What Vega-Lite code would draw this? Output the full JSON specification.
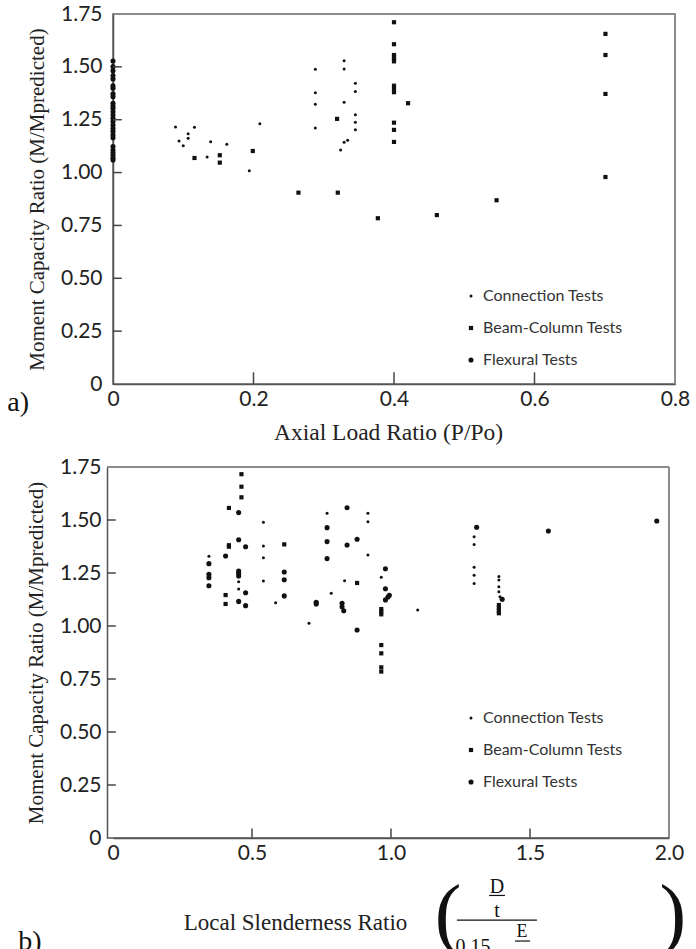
{
  "$schema": "https://vega.github.io/schema/vega-lite/v6.json",
  "background": "white",
  "padding": {"left": 6, "top": 2, "right": 0, "bottom": 0},
  "spacing": 11,
  "resolve": {"scale": {"shape": "independent", "size": "independent"}, "legend": {"shape": "independent", "size": "independent"}},
  "config": {
    "view": {"stroke": "#8c8c8c", "strokeWidth": 2},
    "axis": {"labelFont": "Lato", "labelFontSize": 21, "labelColor": "#222", "titleFont": "Liberation Serif", "titleFontSize": 21, "titleFontWeight": "normal", "titleColor": "#222", "domainColor": "#555", "domainWidth": 1.5, "ticks": false, "grid": false, "labelFlush": false, "labelOverlap": false},
    "legend": {"title": null, "labelFont": "Lato", "labelFontSize": 16, "labelColor": "#333", "rowPadding": 16, "labelOffset": 4, "padding": 0},
    "text": {"font": "Liberation Serif", "color": "#111"}
  },
  "datasets": {
    "axial": [
      {"ratio": 0, "capacity": 1.528, "test": "Flexural Tests"},
      {"ratio": 0, "capacity": 1.501, "test": "Flexural Tests"},
      {"ratio": 0, "capacity": 1.481, "test": "Flexural Tests"},
      {"ratio": 0, "capacity": 1.459, "test": "Flexural Tests"},
      {"ratio": 0, "capacity": 1.443, "test": "Flexural Tests"},
      {"ratio": 0, "capacity": 1.410, "test": "Flexural Tests"},
      {"ratio": 0, "capacity": 1.399, "test": "Flexural Tests"},
      {"ratio": 0, "capacity": 1.372, "test": "Flexural Tests"},
      {"ratio": 0, "capacity": 1.359, "test": "Flexural Tests"},
      {"ratio": 0, "capacity": 1.328, "test": "Flexural Tests"},
      {"ratio": 0, "capacity": 1.315, "test": "Flexural Tests"},
      {"ratio": 0, "capacity": 1.304, "test": "Flexural Tests"},
      {"ratio": 0, "capacity": 1.288, "test": "Flexural Tests"},
      {"ratio": 0, "capacity": 1.272, "test": "Flexural Tests"},
      {"ratio": 0, "capacity": 1.257, "test": "Flexural Tests"},
      {"ratio": 0, "capacity": 1.241, "test": "Flexural Tests"},
      {"ratio": 0, "capacity": 1.225, "test": "Flexural Tests"},
      {"ratio": 0, "capacity": 1.209, "test": "Flexural Tests"},
      {"ratio": 0, "capacity": 1.194, "test": "Flexural Tests"},
      {"ratio": 0, "capacity": 1.178, "test": "Flexural Tests"},
      {"ratio": 0, "capacity": 1.165, "test": "Flexural Tests"},
      {"ratio": 0, "capacity": 1.123, "test": "Flexural Tests"},
      {"ratio": 0, "capacity": 1.107, "test": "Flexural Tests"},
      {"ratio": 0, "capacity": 1.094, "test": "Flexural Tests"},
      {"ratio": 0, "capacity": 1.082, "test": "Flexural Tests"},
      {"ratio": 0, "capacity": 1.069, "test": "Flexural Tests"},
      {"ratio": 0, "capacity": 1.060, "test": "Flexural Tests"},
      {"ratio": 0.089, "capacity": 1.216, "test": "Connection Tests"},
      {"ratio": 0.094, "capacity": 1.149, "test": "Connection Tests"},
      {"ratio": 0.100, "capacity": 1.127, "test": "Connection Tests"},
      {"ratio": 0.107, "capacity": 1.184, "test": "Connection Tests"},
      {"ratio": 0.107, "capacity": 1.162, "test": "Connection Tests"},
      {"ratio": 0.116, "capacity": 1.214, "test": "Connection Tests"},
      {"ratio": 0.134, "capacity": 1.074, "test": "Connection Tests"},
      {"ratio": 0.139, "capacity": 1.146, "test": "Connection Tests"},
      {"ratio": 0.162, "capacity": 1.134, "test": "Connection Tests"},
      {"ratio": 0.194, "capacity": 1.009, "test": "Connection Tests"},
      {"ratio": 0.209, "capacity": 1.231, "test": "Connection Tests"},
      {"ratio": 0.288, "capacity": 1.489, "test": "Connection Tests"},
      {"ratio": 0.288, "capacity": 1.378, "test": "Connection Tests"},
      {"ratio": 0.288, "capacity": 1.323, "test": "Connection Tests"},
      {"ratio": 0.288, "capacity": 1.211, "test": "Connection Tests"},
      {"ratio": 0.324, "capacity": 1.107, "test": "Connection Tests"},
      {"ratio": 0.329, "capacity": 1.529, "test": "Connection Tests"},
      {"ratio": 0.329, "capacity": 1.490, "test": "Connection Tests"},
      {"ratio": 0.329, "capacity": 1.333, "test": "Connection Tests"},
      {"ratio": 0.329, "capacity": 1.143, "test": "Connection Tests"},
      {"ratio": 0.334, "capacity": 1.153, "test": "Connection Tests"},
      {"ratio": 0.345, "capacity": 1.422, "test": "Connection Tests"},
      {"ratio": 0.345, "capacity": 1.384, "test": "Connection Tests"},
      {"ratio": 0.345, "capacity": 1.274, "test": "Connection Tests"},
      {"ratio": 0.345, "capacity": 1.238, "test": "Connection Tests"},
      {"ratio": 0.345, "capacity": 1.202, "test": "Connection Tests"},
      {"ratio": 0.116, "capacity": 1.069, "test": "Beam-Column Tests"},
      {"ratio": 0.152, "capacity": 1.082, "test": "Beam-Column Tests"},
      {"ratio": 0.152, "capacity": 1.047, "test": "Beam-Column Tests"},
      {"ratio": 0.199, "capacity": 1.102, "test": "Beam-Column Tests"},
      {"ratio": 0.264, "capacity": 0.905, "test": "Beam-Column Tests"},
      {"ratio": 0.320, "capacity": 0.905, "test": "Beam-Column Tests"},
      {"ratio": 0.319, "capacity": 1.254, "test": "Beam-Column Tests"},
      {"ratio": 0.377, "capacity": 0.784, "test": "Beam-Column Tests"},
      {"ratio": 0.400, "capacity": 1.711, "test": "Beam-Column Tests"},
      {"ratio": 0.400, "capacity": 1.607, "test": "Beam-Column Tests"},
      {"ratio": 0.400, "capacity": 1.556, "test": "Beam-Column Tests"},
      {"ratio": 0.400, "capacity": 1.545, "test": "Beam-Column Tests"},
      {"ratio": 0.400, "capacity": 1.536, "test": "Beam-Column Tests"},
      {"ratio": 0.400, "capacity": 1.526, "test": "Beam-Column Tests"},
      {"ratio": 0.400, "capacity": 1.411, "test": "Beam-Column Tests"},
      {"ratio": 0.400, "capacity": 1.397, "test": "Beam-Column Tests"},
      {"ratio": 0.400, "capacity": 1.380, "test": "Beam-Column Tests"},
      {"ratio": 0.400, "capacity": 1.236, "test": "Beam-Column Tests"},
      {"ratio": 0.400, "capacity": 1.202, "test": "Beam-Column Tests"},
      {"ratio": 0.400, "capacity": 1.145, "test": "Beam-Column Tests"},
      {"ratio": 0.420, "capacity": 1.328, "test": "Beam-Column Tests"},
      {"ratio": 0.461, "capacity": 0.799, "test": "Beam-Column Tests"},
      {"ratio": 0.546, "capacity": 0.869, "test": "Beam-Column Tests"},
      {"ratio": 0.701, "capacity": 1.656, "test": "Beam-Column Tests"},
      {"ratio": 0.701, "capacity": 1.556, "test": "Beam-Column Tests"},
      {"ratio": 0.701, "capacity": 1.372, "test": "Beam-Column Tests"},
      {"ratio": 0.701, "capacity": 0.979, "test": "Beam-Column Tests"}
    ],
    "slender": [
      {"ratio": 0.345, "capacity": 1.329, "test": "Connection Tests"},
      {"ratio": 0.345, "capacity": 1.294, "test": "Flexural Tests"},
      {"ratio": 0.345, "capacity": 1.244, "test": "Flexural Tests"},
      {"ratio": 0.345, "capacity": 1.228, "test": "Flexural Tests"},
      {"ratio": 0.345, "capacity": 1.190, "test": "Flexural Tests"},
      {"ratio": 0.405, "capacity": 1.330, "test": "Flexural Tests"},
      {"ratio": 0.405, "capacity": 1.146, "test": "Beam-Column Tests"},
      {"ratio": 0.405, "capacity": 1.104, "test": "Beam-Column Tests"},
      {"ratio": 0.417, "capacity": 1.557, "test": "Beam-Column Tests"},
      {"ratio": 0.417, "capacity": 1.381, "test": "Beam-Column Tests"},
      {"ratio": 0.417, "capacity": 1.374, "test": "Beam-Column Tests"},
      {"ratio": 0.452, "capacity": 1.535, "test": "Flexural Tests"},
      {"ratio": 0.452, "capacity": 1.407, "test": "Flexural Tests"},
      {"ratio": 0.452, "capacity": 1.259, "test": "Flexural Tests"},
      {"ratio": 0.452, "capacity": 1.248, "test": "Flexural Tests"},
      {"ratio": 0.452, "capacity": 1.236, "test": "Flexural Tests"},
      {"ratio": 0.452, "capacity": 1.209, "test": "Connection Tests"},
      {"ratio": 0.452, "capacity": 1.175, "test": "Connection Tests"},
      {"ratio": 0.452, "capacity": 1.116, "test": "Flexural Tests"},
      {"ratio": 0.462, "capacity": 1.716, "test": "Beam-Column Tests"},
      {"ratio": 0.462, "capacity": 1.657, "test": "Beam-Column Tests"},
      {"ratio": 0.462, "capacity": 1.607, "test": "Beam-Column Tests"},
      {"ratio": 0.477, "capacity": 1.374, "test": "Flexural Tests"},
      {"ratio": 0.477, "capacity": 1.157, "test": "Flexural Tests"},
      {"ratio": 0.477, "capacity": 1.096, "test": "Flexural Tests"},
      {"ratio": 0.541, "capacity": 1.489, "test": "Connection Tests"},
      {"ratio": 0.541, "capacity": 1.377, "test": "Connection Tests"},
      {"ratio": 0.541, "capacity": 1.322, "test": "Connection Tests"},
      {"ratio": 0.541, "capacity": 1.212, "test": "Connection Tests"},
      {"ratio": 0.585, "capacity": 1.110, "test": "Connection Tests"},
      {"ratio": 0.616, "capacity": 1.385, "test": "Beam-Column Tests"},
      {"ratio": 0.616, "capacity": 1.255, "test": "Flexural Tests"},
      {"ratio": 0.616, "capacity": 1.218, "test": "Flexural Tests"},
      {"ratio": 0.616, "capacity": 1.142, "test": "Flexural Tests"},
      {"ratio": 0.705, "capacity": 1.013, "test": "Connection Tests"},
      {"ratio": 0.731, "capacity": 1.112, "test": "Flexural Tests"},
      {"ratio": 0.731, "capacity": 1.104, "test": "Flexural Tests"},
      {"ratio": 0.770, "capacity": 1.532, "test": "Connection Tests"},
      {"ratio": 0.770, "capacity": 1.464, "test": "Flexural Tests"},
      {"ratio": 0.770, "capacity": 1.398, "test": "Flexural Tests"},
      {"ratio": 0.770, "capacity": 1.318, "test": "Flexural Tests"},
      {"ratio": 0.785, "capacity": 1.154, "test": "Connection Tests"},
      {"ratio": 0.824, "capacity": 1.107, "test": "Flexural Tests"},
      {"ratio": 0.824, "capacity": 1.091, "test": "Flexural Tests"},
      {"ratio": 0.830, "capacity": 1.072, "test": "Flexural Tests"},
      {"ratio": 0.842, "capacity": 1.558, "test": "Flexural Tests"},
      {"ratio": 0.842, "capacity": 1.382, "test": "Flexural Tests"},
      {"ratio": 0.833, "capacity": 1.214, "test": "Connection Tests"},
      {"ratio": 0.878, "capacity": 1.409, "test": "Flexural Tests"},
      {"ratio": 0.878, "capacity": 1.203, "test": "Beam-Column Tests"},
      {"ratio": 0.878, "capacity": 0.981, "test": "Flexural Tests"},
      {"ratio": 0.917, "capacity": 1.532, "test": "Connection Tests"},
      {"ratio": 0.917, "capacity": 1.492, "test": "Connection Tests"},
      {"ratio": 0.917, "capacity": 1.335, "test": "Connection Tests"},
      {"ratio": 0.980, "capacity": 1.270, "test": "Flexural Tests"},
      {"ratio": 0.965, "capacity": 1.230, "test": "Connection Tests"},
      {"ratio": 0.980, "capacity": 1.176, "test": "Flexural Tests"},
      {"ratio": 0.994, "capacity": 1.145, "test": "Flexural Tests"},
      {"ratio": 0.989, "capacity": 1.137, "test": "Flexural Tests"},
      {"ratio": 0.980, "capacity": 1.123, "test": "Flexural Tests"},
      {"ratio": 0.965, "capacity": 1.080, "test": "Beam-Column Tests"},
      {"ratio": 0.965, "capacity": 1.068, "test": "Beam-Column Tests"},
      {"ratio": 0.965, "capacity": 1.055, "test": "Beam-Column Tests"},
      {"ratio": 0.965, "capacity": 0.910, "test": "Beam-Column Tests"},
      {"ratio": 0.965, "capacity": 0.871, "test": "Beam-Column Tests"},
      {"ratio": 0.965, "capacity": 0.805, "test": "Beam-Column Tests"},
      {"ratio": 0.965, "capacity": 0.785, "test": "Beam-Column Tests"},
      {"ratio": 1.096, "capacity": 1.075, "test": "Connection Tests"},
      {"ratio": 1.308, "capacity": 1.466, "test": "Flexural Tests"},
      {"ratio": 1.299, "capacity": 1.421, "test": "Connection Tests"},
      {"ratio": 1.299, "capacity": 1.385, "test": "Connection Tests"},
      {"ratio": 1.299, "capacity": 1.277, "test": "Connection Tests"},
      {"ratio": 1.299, "capacity": 1.239, "test": "Connection Tests"},
      {"ratio": 1.299, "capacity": 1.201, "test": "Connection Tests"},
      {"ratio": 1.388, "capacity": 1.233, "test": "Connection Tests"},
      {"ratio": 1.388, "capacity": 1.217, "test": "Connection Tests"},
      {"ratio": 1.388, "capacity": 1.185, "test": "Connection Tests"},
      {"ratio": 1.388, "capacity": 1.162, "test": "Connection Tests"},
      {"ratio": 1.392, "capacity": 1.138, "test": "Connection Tests"},
      {"ratio": 1.400, "capacity": 1.126, "test": "Flexural Tests"},
      {"ratio": 1.388, "capacity": 1.099, "test": "Beam-Column Tests"},
      {"ratio": 1.388, "capacity": 1.085, "test": "Beam-Column Tests"},
      {"ratio": 1.388, "capacity": 1.071, "test": "Beam-Column Tests"},
      {"ratio": 1.388, "capacity": 1.060, "test": "Beam-Column Tests"},
      {"ratio": 1.566, "capacity": 1.448, "test": "Flexural Tests"},
      {"ratio": 1.956, "capacity": 1.495, "test": "Flexural Tests"}
    ],
    "one": [{}],
    "yticks": [{"capacity": 0.25}, {"capacity": 0.5}, {"capacity": 0.75}, {"capacity": 1}, {"capacity": 1.25}, {"capacity": 1.5}],
    "xticks_axial": [{"ratio": 0.2}, {"ratio": 0.4}, {"ratio": 0.6}],
    "xticks_slender": [{"ratio": 0.5}, {"ratio": 1}, {"ratio": 1.5}]
  },
  "vconcat": [
    {
      "width": 562,
      "height": 370,
      "layer": [
        {
          "data": {"name": "axial"},
          "mark": {"type": "point", "filled": true, "opacity": 1, "color": "#111"},
          "encoding": {
            "x": {"field": "ratio", "type": "quantitative", "scale": {"domain": [0, 0.8], "nice": false, "zero": false},
              "axis": {"values": [0, 0.2, 0.4, 0.6, 0.8], "labelExpr": "datum.value == 0 ? '0' : format(datum.value, '.1f')", "labelPadding": 4, "title": "Axial Load Ratio (P/Po)", "titleFontSize": 23.5, "titleX": 275, "titleY": 48, "titleBaseline": "middle"}},
            "y": {"field": "capacity", "type": "quantitative", "scale": {"domain": [0, 1.75], "nice": false, "zero": false},
              "axis": {"values": [0, 0.25, 0.5, 0.75, 1, 1.25, 1.5, 1.75], "labelExpr": "datum.value == 0 ? '0' : format(datum.value, '.2f')", "labelPadding": 11, "title": "Moment Capacity Ratio (M/Mpredicted)", "titlePadding": 13}},
            "shape": {"field": "test", "type": "nominal", "scale": {"domain": ["Connection Tests", "Beam-Column Tests", "Flexural Tests"], "range": ["circle", "square", "circle"]},
              "legend": {"orient": "none", "legendX": 350, "legendY": 274}},
            "size": {"field": "test", "type": "nominal", "scale": {"domain": ["Connection Tests", "Beam-Column Tests", "Flexural Tests"], "range": [9, 26, 20]},
              "legend": {"orient": "none", "legendX": 350, "legendY": 274}}
          }
        },
        {
          "data": {"name": "yticks"},
          "mark": {"type": "rule", "color": "#444", "strokeWidth": 1.5},
          "encoding": {"y": {"field": "capacity", "type": "quantitative"}, "x": {"datum": 0}, "x2": {"datum": 0.0125}}
        },
        {
          "data": {"name": "xticks_axial"},
          "mark": {"type": "rule", "color": "#444", "strokeWidth": 1.5},
          "encoding": {"x": {"field": "ratio", "type": "quantitative"}, "y": {"datum": 0}, "y2": {"datum": 0.055}}
        },
        {
          "data": {"name": "one"},
          "mark": {"type": "text", "text": "a)", "fontSize": 28, "align": "center", "baseline": "middle"},
          "encoding": {"x": {"datum": -0.135}, "y": {"datum": -0.09}}
        }
      ]
    },
    {
      "width": 556,
      "height": 371,
      "view": {"stroke": null},
      "layer": [
        {
          "data": {"name": "slender"},
          "mark": {"type": "point", "filled": true, "opacity": 1, "color": "#111"},
          "encoding": {
            "x": {"field": "ratio", "type": "quantitative", "scale": {"domain": [0, 2], "nice": false, "zero": false},
              "axis": {"values": [0, 0.5, 1, 1.5, 2], "labelExpr": "datum.value == 0 ? '0' : format(datum.value, '.1f')", "labelPadding": 4, "title": "Local Slenderness Ratio", "titleFontSize": 23, "titleX": 182, "titleY": 84, "titleBaseline": "middle"}},
            "y": {"field": "capacity", "type": "quantitative", "scale": {"domain": [0, 1.75], "nice": false, "zero": false},
              "axis": {"values": [0, 0.25, 0.5, 0.75, 1, 1.25, 1.5, 1.75], "labelExpr": "datum.value == 0 ? '0' : format(datum.value, '.2f')", "labelPadding": 6, "offset": 6, "title": "Moment Capacity Ratio (M/Mpredicted)", "titlePadding": 13}},
            "shape": {"field": "test", "type": "nominal", "scale": {"domain": ["Connection Tests", "Beam-Column Tests", "Flexural Tests"], "range": ["circle", "square", "circle"]},
              "legend": {"orient": "none", "legendX": 350, "legendY": 243}},
            "size": {"field": "test", "type": "nominal", "scale": {"domain": ["Connection Tests", "Beam-Column Tests", "Flexural Tests"], "range": [9, 26, 20]},
              "legend": {"orient": "none", "legendX": 350, "legendY": 243}}
          }
        },
        {
          "data": {"name": "yticks"},
          "mark": {"type": "rule", "color": "#444", "strokeWidth": 1.5},
          "encoding": {"y": {"field": "capacity", "type": "quantitative"}, "x": {"datum": -0.0216}, "x2": {"datum": 0.01}}
        },
        {
          "data": {"name": "xticks_slender"},
          "mark": {"type": "rule", "color": "#444", "strokeWidth": 1.5},
          "encoding": {"x": {"field": "ratio", "type": "quantitative"}, "y": {"datum": 0}, "y2": {"datum": 0.045}}
        },
        {
          "data": {"name": "one"},
          "mark": {"type": "rule", "color": "#8c8c8c", "strokeWidth": 2},
          "encoding": {"x": {"datum": -0.0216}, "x2": {"datum": 2}, "y": {"datum": 1.75}}
        },
        {
          "data": {"name": "one"},
          "mark": {"type": "rule", "color": "#8c8c8c", "strokeWidth": 2},
          "encoding": {"x": {"datum": 2}, "y": {"datum": 0}, "y2": {"datum": 1.75}}
        },
        {
          "data": {"name": "one"},
          "mark": {"type": "rule", "color": "#555", "strokeWidth": 1.5},
          "encoding": {"x": {"datum": -0.0216}, "x2": {"datum": 2}, "y": {"datum": 0}}
        },
        {
          "data": {"name": "one"},
          "mark": {"type": "text", "text": "b)", "fontSize": 28, "align": "center", "baseline": "middle"},
          "encoding": {"x": {"datum": -0.299}, "y": {"datum": -0.49}}
        },
        {
          "data": {"name": "one"},
          "mark": {"type": "text", "text": "D", "fontSize": 20, "align": "center", "baseline": "middle"},
          "encoding": {"x": {"datum": 1.381}, "y": {"datum": -0.231}}
        },
        {
          "data": {"name": "one"},
          "mark": {"type": "rule", "color": "#111", "strokeWidth": 1.2},
          "encoding": {"x": {"datum": 1.353}, "x2": {"datum": 1.41}, "y": {"datum": -0.271}}
        },
        {
          "data": {"name": "one"},
          "mark": {"type": "text", "text": "t", "fontSize": 20, "align": "center", "baseline": "middle"},
          "encoding": {"x": {"datum": 1.381}, "y": {"datum": -0.344}}
        },
        {
          "data": {"name": "one"},
          "mark": {"type": "rule", "color": "#111", "strokeWidth": 1.2},
          "encoding": {"x": {"datum": 1.237}, "x2": {"datum": 1.525}, "y": {"datum": -0.387}}
        },
        {
          "data": {"name": "one"},
          "mark": {"type": "text", "text": "0.15", "fontSize": 20, "align": "center", "baseline": "middle"},
          "encoding": {"x": {"datum": 1.295}, "y": {"datum": -0.514}}
        },
        {
          "data": {"name": "one"},
          "mark": {"type": "text", "text": "E", "fontSize": 18, "align": "center", "baseline": "middle"},
          "encoding": {"x": {"datum": 1.471}, "y": {"datum": -0.445}}
        },
        {
          "data": {"name": "one"},
          "mark": {"type": "rule", "color": "#111", "strokeWidth": 1.2},
          "encoding": {"x": {"datum": 1.446}, "x2": {"datum": 1.5}, "y": {"datum": -0.486}}
        },
        {
          "data": {"name": "one"},
          "mark": {"type": "text", "text": "Fy", "fontSize": 18, "align": "center", "baseline": "middle"},
          "encoding": {"x": {"datum": 1.471}, "y": {"datum": -0.565}}
        },
        {
          "data": {"name": "one"},
          "mark": {"type": "text", "text": "(", "fontSize": 80, "align": "center", "baseline": "middle"},
          "encoding": {"x": {"datum": 1.205}, "y": {"datum": -0.37}}
        },
        {
          "data": {"name": "one"},
          "mark": {"type": "text", "text": ")", "fontSize": 80, "align": "center", "baseline": "middle"},
          "encoding": {"x": {"datum": 2.014}, "y": {"datum": -0.37}}
        }
      ]
    }
  ]
}
